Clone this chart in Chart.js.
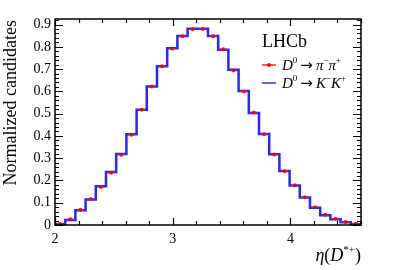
<!DOCTYPE html>
<html>
<head>
<meta charset="utf-8">
<script src="https://cdn.jsdelivr.net/npm/chart.js@4.4.1/dist/chart.umd.min.js"></script>
<style>
  html, body { margin: 0; padding: 0; background: #fff; }
  #wrap { width: 399px; height: 270px; }
</style>
</head>
<body>
<div id="wrap"><canvas id="etaChart" width="399" height="270"></canvas></div>
<script>
// eta(D*+) binning: 30 bins from 2 to 4.6
var etaMin = 2.0, etaMax = 4.6, nBins = 30;
// normalized candidates, D0 -> pi- pi+ (red points)
var pipi = [0.005, 0.026, 0.069, 0.117, 0.171, 0.235, 0.315, 0.405, 0.517, 0.622,
            0.713, 0.792, 0.847, 0.879, 0.880, 0.848, 0.789, 0.694, 0.600, 0.505,
            0.408, 0.317, 0.241, 0.178, 0.125, 0.080, 0.046, 0.028, 0.014, 0.006];
// normalized candidates, D0 -> K- K+ (blue histogram)
var kk = [0.004, 0.022, 0.066, 0.115, 0.174, 0.238, 0.319, 0.408, 0.517, 0.622,
          0.713, 0.794, 0.849, 0.881, 0.881, 0.849, 0.787, 0.697, 0.602, 0.503,
          0.409, 0.318, 0.243, 0.177, 0.124, 0.078, 0.044, 0.026, 0.012, 0.005];
var yTicks = [0, 0.1, 0.2, 0.3, 0.4, 0.5, 0.6, 0.7, 0.8, 0.9];
var xTicks = [2, 3, 4];
var yMax = 0.925;

var binW = (etaMax - etaMin) / nBins;
var edges = [];
for (var i = 0; i <= nBins; i++) edges.push(etaMin + i * binW);

// histogram outline: point at the low edge of each bin, plus the last edge
var kkLine = kk.map(function(v, i){ return {x: edges[i], y: v}; });
kkLine.push({x: edges[nBins], y: kk[nBins - 1]});

// red horizontal bars separated by gaps, and the dots
var pipiBars = [];
var pipiDots = [];
pipi.forEach(function(v, i){
    pipiBars.push({x: edges[i] + 0.15 * binW, y: v});
    pipiBars.push({x: edges[i + 1] - 0.15 * binW, y: v});
    pipiBars.push({x: edges[i + 1], y: null});
    pipiDots.push({x: edges[i] + binW / 2, y: v});
});

var SERIF = '"Liberation Serif", "DejaVu Serif", serif';

function drawRich(ctx, parts, x, y, measureOnly){
    var cx = x;
    parts.forEach(function(p){
        ctx.font = p.font;
        if (!measureOnly) ctx.fillText(p.t, cx, y + (p.dy || 0));
        cx += ctx.measureText(p.t).width + (p.gap || 0);
    });
    return cx - x;
}

function decayParts(a, b){
    var big = 'italic 15px ' + SERIF, sup = '9px ' + SERIF;
    return [
        {t: 'D', font: big},
        {t: '0', font: sup, dy: -7, gap: 3},
        {t: '\u2192', font: '15px "DejaVu Sans", sans-serif', gap: 3},
        {t: a, font: big},
        {t: '\u2212', font: sup, dy: -7},
        {t: b, font: big},
        {t: '+', font: sup, dy: -7}
    ];
}

var decor = {
    id: 'decor',
    afterDraw: function(chart){
        var ctx = chart.ctx, a = chart.chartArea;
        var xs = chart.scales.x, ys = chart.scales.y;
        ctx.save();
        ctx.strokeStyle = '#000';
        ctx.fillStyle = '#000';
        // frame
        ctx.lineWidth = 1.5;
        ctx.strokeRect(a.left, a.top, a.right - a.left, a.bottom - a.top);
        // y ticks, minor every 0.02, both sides
        ctx.lineWidth = 1.2;
        for (var k = 0; k <= 46; k++) {
            var v = k * 0.02;
            if (v > yMax) break;
            var py = Math.round(ys.getPixelForValue(v)) + 0.5;
            var len = (k % 5 === 0) ? 8 : 4;
            ctx.beginPath();
            ctx.moveTo(a.left, py); ctx.lineTo(a.left + len, py);
            ctx.moveTo(a.right, py); ctx.lineTo(a.right - len, py);
            ctx.stroke();
        }
        // x ticks, minor every 0.2, top and bottom
        for (var j = 0; j <= 13; j++) {
            var xv = 2 + j * 0.2;
            if (xv > etaMax + 1e-6) break;
            var px = Math.round(xs.getPixelForValue(xv)) + 0.5;
            var l2 = (j % 5 === 0) ? 7 : 4;
            ctx.beginPath();
            ctx.moveTo(px, a.bottom); ctx.lineTo(px, a.bottom - l2);
            ctx.moveTo(px, a.top); ctx.lineTo(px, a.top + l2);
            ctx.stroke();
        }
        // tick labels
        ctx.font = '14px ' + SERIF;
        ctx.textAlign = 'right';
        ctx.textBaseline = 'middle';
        yTicks.forEach(function(t){
            ctx.fillText(t === 0 ? '0' : t.toFixed(1), a.left - 4, ys.getPixelForValue(t));
        });
        ctx.textAlign = 'center';
        ctx.textBaseline = 'top';
        xTicks.forEach(function(t){
            ctx.fillText(String(t), xs.getPixelForValue(t), a.bottom + 7);
        });
        // y title
        ctx.save();
        ctx.translate(16, 20);
        ctx.rotate(-Math.PI / 2);
        ctx.textAlign = 'right';
        ctx.textBaseline = 'alphabetic';
        ctx.font = '18px ' + SERIF;
        ctx.fillText('Normalized candidates', 0, 0);
        ctx.restore();
        // x title: eta(D*+)
        ctx.textAlign = 'left';
        ctx.textBaseline = 'alphabetic';
        var xt = [
            {t: '\u03b7', font: 'italic 18px ' + SERIF},
            {t: '(', font: '18px ' + SERIF},
            {t: 'D', font: 'italic 18px ' + SERIF},
            {t: '*+', font: '11px ' + SERIF, dy: -8},
            {t: ')', font: '18px ' + SERIF}
        ];
        var w = drawRich(ctx, xt, 0, 0, true);
        drawRich(ctx, xt, a.right - w, 261);
        // legend
        ctx.font = '18px ' + SERIF;
        ctx.fillText('LHCb', 262, 47);
        var ly1 = 65, ly2 = 83;
        ctx.lineWidth = 2;
        ctx.strokeStyle = 'rgba(255,40,40,0.75)';
        ctx.beginPath(); ctx.moveTo(262, ly1); ctx.lineTo(276, ly1); ctx.stroke();
        ctx.fillStyle = 'rgba(240,0,0,0.9)';
        ctx.beginPath(); ctx.arc(269, ly1, 2, 0, Math.PI * 2); ctx.fill();
        ctx.strokeStyle = 'rgba(60,60,255,0.8)';
        ctx.beginPath(); ctx.moveTo(262, ly2); ctx.lineTo(276, ly2); ctx.stroke();
        ctx.fillStyle = '#000';
        drawRich(ctx, decayParts('\u03c0', '\u03c0'), 282, ly1 + 5);
        drawRich(ctx, decayParts('K', 'K'), 282, ly2 + 5);
        ctx.restore();
    }
};

var ctx = document.getElementById('etaChart');
var etaChart = new Chart(ctx, {
    type: 'line',
    data: {
        datasets: [{
            label: 'D0 -> pi- pi+ points',
            data: pipiDots,
            showLine: false,
            pointRadius: 2,
            pointBorderWidth: 0,
            pointBackgroundColor: 'rgba(240,0,0,0.85)',
            pointBorderColor: 'rgba(240,0,0,0.85)'
        }, {
            label: 'D0 -> pi- pi+ bars',
            data: pipiBars,
            borderColor: 'rgba(255,40,40,0.6)',
            borderWidth: 1.5,
            pointRadius: 0,
            spanGaps: false
        }, {
            label: 'D0 -> K- K+',
            data: kkLine,
            stepped: 'before',
            borderColor: 'rgba(0,0,255,0.85)',
            borderWidth: 2.5,
            pointRadius: 0,
            fill: false
        }]
    },
    options: {
        responsive: false,
        animation: false,
        layout: { padding: { left: 55, top: 19, right: 38, bottom: 45 } },
        plugins: { legend: { display: false }, tooltip: { enabled: false } },
        scales: {
            x: { type: 'linear', min: etaMin, max: etaMax, display: false },
            y: { min: 0, max: yMax, display: false }
        }
    },
    plugins: [decor]
});
</script>
</body>
</html>
